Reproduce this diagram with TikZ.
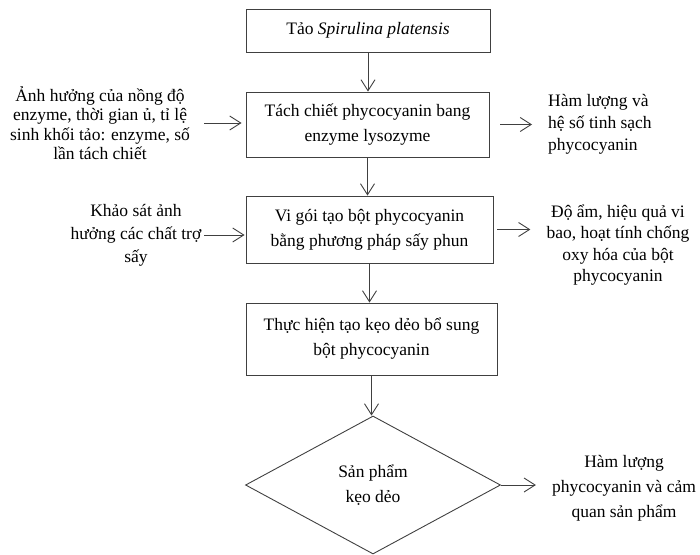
\documentclass[tikz,border=0pt]{standalone}
\usepackage{fontspec}
\setmainfont{Liberation Serif}
\usetikzlibrary{arrows.meta,shapes.geometric}
\begin{document}
\begin{tikzpicture}[x=1pt,y=-1pt,>={Straight Barb[length=11pt,width=14pt]},
    font=\fontsize{17.5}{25}\selectfont,every node/.style={align=center,inner sep=0pt},
    khung/.style={draw=black!75,line width=0.9pt},
    mui/.style={->,draw=black!75,line width=0.9pt}]
    \useasboundingbox (0,0) rectangle (700,554);
    % cac buoc chinh
    \node[khung,minimum width=244pt,minimum height=43pt] (tao) at (368,30.5) {Tảo \textit{Spirulina platensis}};
    \node[khung,minimum width=243pt,minimum height=65pt] (tach) at (367.5,124.5) {Tách chiết phycocyanin bang\\enzyme lysozyme};
    \node[khung,minimum width=247pt,minimum height=67pt] (vigoi) at (369.5,229.5) {Vi gói tạo bột phycocyanin\\bằng phương pháp sấy phun};
    \node[khung,minimum width=251pt,minimum height=72pt] (keo) at (371.5,339) {Thực hiện tạo kẹo dẻo bổ sung\\bột phycocyanin};
    \node[khung,diamond,minimum width=255pt,minimum height=138pt] (sp) at (373,485) {Sản phẩm\\kẹo dẻo};
    % ben trai
    \node[inner xsep=14pt,font=\fontsize{17.5}{19.5}\selectfont] (anhhuong) at (100,123) {Ảnh hưởng của nồng độ\\enzyme, thời gian ủ, tỉ lệ\\sinh khối tảo: enzyme, số\\lần tách chiết};
    \node[inner xsep=3pt,font=\fontsize{17.5}{23}\selectfont] (khaosat) at (136,235) {Khảo sát ảnh\\hưởng các chất trợ\\sấy};
    % ben phai
    \node[anchor=west,align=left,inner xsep=16pt,font=\fontsize{17.5}{22}\selectfont] (hamluong) at (532,124) {Hàm lượng và\\hệ số tinh sạch\\phycocyanin};
    \node[inner xsep=16pt,font=\fontsize{17.5}{21.5}\selectfont] (doam) at (618,245) {Độ ẩm, hiệu quả vi\\bao, hoạt tính chống\\oxy hóa của bột\\phycocyanin};
    \node[inner xsep=16pt] (camquan) at (624,488) {Hàm lượng\\phycocyanin và cảm\\quan sản phẩm};
    % mui ten
    \draw[mui] (tao.south) -- (tao.south |- tach.north);
    \draw[mui] (tach.south) -- (tach.south |- vigoi.north);
    \draw[mui] (vigoi.south) -- (vigoi.south |- keo.north);
    \draw[mui] (keo.south) -- (keo.south |- sp.north);
    \draw[mui,shorten >=4pt] (anhhuong.east) -- (anhhuong.east -| tach.west);
    \draw[mui,shorten >=1pt] (khaosat.east) -- (khaosat.east -| vigoi.west);
    \draw[mui,shorten <=11pt] (tach.east) -- (tach.east -| hamluong.west);
    \draw[mui,shorten <=4pt] (vigoi.east) -- (vigoi.east -| doam.west);
    \draw[mui] (sp.east) -- (sp.east -| camquan.west);
\end{tikzpicture}
\end{document}
